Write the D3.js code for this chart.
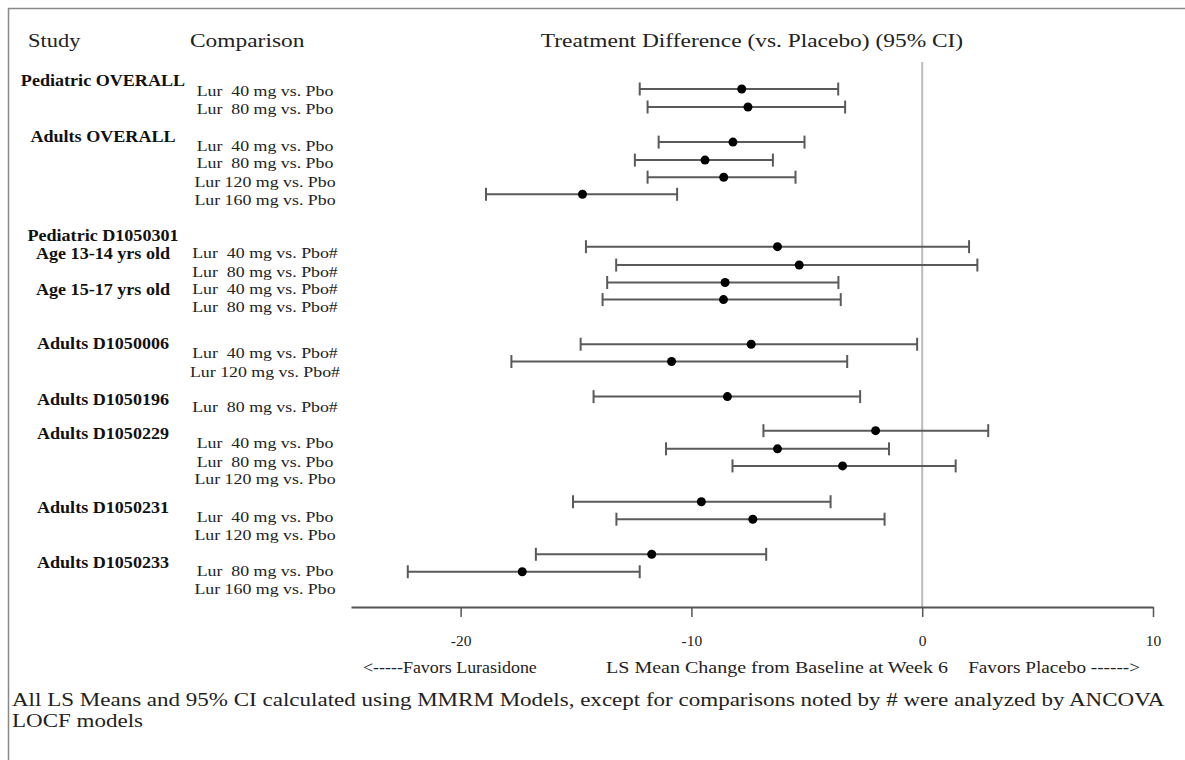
<!DOCTYPE html>
<html>
<head>
<meta charset="utf-8">
<style>
    body { margin: 0; background: #fff; }
    text { font-family: "Liberation Serif", "Times New Roman", serif; fill: #222; }
    .hdr { font-size: 19.5px; }
    .study { font-size: 16px; font-weight: bold; fill: #111; }
    .comp { font-size: 15.5px; }
    .note { font-size: 19.5px; }
    .favors { font-size: 16px; }
</style>
<script src="https://d3js.org/d3.v7.min.js"></script>
</head>
<body>

<svg width="1185" height="760"></svg>

<script>

    // study / subgroup labels and the row they sit on
    var studyLabels = ["Pediatric OVERALL", "Adults OVERALL", "Pediatric D1050301", "Age 13-14 yrs old",
        "Age 15-17 yrs old", "Adults D1050006", "Adults D1050196", "Adults D1050229",
        "Adults D1050231", "Adults D1050233"];
    var studyRows = [0.5, 3.61, 9.11, 10.11, 12.11, 15.11, 18.22, 20.11, 24.22, 27.28];

    // comparison labels (second column)
    var compLabels = ["Lur  40 mg vs. Pbo", "Lur  80 mg vs. Pbo",
        "Lur  40 mg vs. Pbo", "Lur  80 mg vs. Pbo", "Lur 120 mg vs. Pbo", "Lur 160 mg vs. Pbo",
        "Lur  40 mg vs. Pbo#", "Lur  80 mg vs. Pbo#", "Lur  40 mg vs. Pbo#", "Lur  80 mg vs. Pbo#",
        "Lur  40 mg vs. Pbo#", "Lur 120 mg vs. Pbo#",
        "Lur  80 mg vs. Pbo#",
        "Lur  40 mg vs. Pbo", "Lur  80 mg vs. Pbo", "Lur 120 mg vs. Pbo",
        "Lur  40 mg vs. Pbo", "Lur 120 mg vs. Pbo",
        "Lur  80 mg vs. Pbo", "Lur 160 mg vs. Pbo"];
    var compRows = [1.06, 2.06, 4.17, 5.11, 6.17, 7.17, 10.11, 11.17, 12.11, 13.11,
        15.67, 16.72, 18.67, 20.67, 21.72, 22.67, 24.78, 25.78, 27.78, 28.78];

    // treatment difference estimates with 95% CI
    var ciRows  = [1.0, 2.0, 3.95, 4.95, 5.9, 6.85, 9.76, 10.78, 11.75, 12.7,
        15.18, 16.14, 18.09, 19.98, 20.99, 21.94, 23.93, 24.9, 26.85, 27.82];
    var ciLower = [-12.24, -11.9, -11.42, -12.45, -11.9, -18.9, -14.57, -13.26, -13.65, -13.85,
        -14.8, -17.8, -14.24, -6.88, -11.1, -8.22, -15.13, -13.25, -16.74, -22.29];
    var ciMean  = [-7.82, -7.55, -8.2, -9.41, -8.6, -14.72, -6.27, -5.33, -8.54, -8.61,
        -7.41, -10.86, -8.44, -2.02, -6.27, -3.45, -9.57, -7.34, -11.72, -17.33];
    var ciUpper = [-3.64, -3.34, -5.1, -6.47, -5.49, -10.62, 2.03, 2.39, -3.63, -3.53,
        -0.22, -3.25, -2.69, 2.86, -1.44, 1.45, -3.97, -1.63, -6.76, -12.24];

    var xTicks = [-20, -10, 0, 10];

    var svg = d3.select('svg');

    // the original font renders wider than Liberation Serif, so stretch text a bit
    function stretch(sel, k) {
        sel.each(function () {
            var w = this.getComputedTextLength();
            d3.select(this)
                .attr('textLength', w * k)
                .attr('lengthAdjust', 'spacingAndGlyphs');
        });
        return sel;
    }

    // outer frame (only top / left visible)
    svg.append('path')
        .attr('d', 'M8.5,760 V8.5 H1185')
        .attr('fill', 'none')
        .attr('stroke', '#888')
        .attr('stroke-width', 1.5);

    var xScale = d3.scaleLinear()
        .domain([-24.75, 10])
        .range([351, 1153]);

    var yScale = d3.scaleLinear()
        .domain([0, 30])
        .range([71, 611]);

    var axisY = 607;

    // column headers
    stretch(svg.append('text').attr('class', 'hdr').attr('x', 28).attr('y', 47).text('Study'), 1.15);
    stretch(svg.append('text').attr('class', 'hdr').attr('x', 190).attr('y', 47).text('Comparison'), 1.2);
    stretch(svg.append('text').attr('class', 'hdr').attr('x', 752).attr('y', 47)
        .attr('text-anchor', 'middle')
        .text('Treatment Difference (vs. Placebo) (95% CI)'), 1.2);

    // zero reference line
    svg.append('line')
        .attr('x1', xScale(0)).attr('x2', xScale(0))
        .attr('y1', 62).attr('y2', axisY)
        .attr('stroke', '#bbb')
        .attr('stroke-width', 2);

    // x axis
    var xAxis = d3.axisBottom(xScale)
        .tickValues(xTicks)
        .tickSize(10)
        .tickSizeOuter(0)
        .tickPadding(18)
        .tickFormat(function (d) { return String(d); });

    var gx = svg.append('g')
        .attr('transform', 'translate(0,' + axisY + ')')
        .call(xAxis);
    gx.select('.domain').attr('stroke', '#555').attr('stroke-width', 2);
    gx.selectAll('.tick line').attr('stroke', '#555').attr('stroke-width', 1.5);
    gx.selectAll('.tick text')
        .attr('font-family', '"Liberation Serif", serif')
        .attr('font-size', 15.5)
        .attr('fill', '#222');

    // row labels
    stretch(svg.selectAll('.study')
        .data(studyLabels)
        .enter()
        .append('text')
        .attr('class', 'study')
        .attr('x', 103)
        .attr('y', function (d, i) { return yScale(studyRows[i]); })
        .attr('dy', '0.35em')
        .attr('text-anchor', 'middle')
        .text(function (d) { return d; }), 1.13);

    stretch(svg.selectAll('.comp')
        .data(compLabels)
        .enter()
        .append('text')
        .attr('class', 'comp')
        .attr('x', 265)
        .attr('y', function (d, i) { return yScale(compRows[i]); })
        .attr('dy', '0.35em')
        .attr('text-anchor', 'middle')
        .style('white-space', 'pre')
        .text(function (d) { return d; }), 1.15);

    // CI bars
    var ci = ciRows.map(function (r, i) {
        return { row: r, lo: ciLower[i], mean: ciMean[i], hi: ciUpper[i] };
    });

    var bars = svg.append('g')
        .selectAll('.ci')
        .data(ci)
        .enter()
        .append('g')
        .attr('class', 'ci')
        .attr('transform', function (d) { return 'translate(0,' + yScale(d.row) + ')'; });

    bars.append('line')
        .attr('x1', function (d) { return xScale(d.lo); })
        .attr('x2', function (d) { return xScale(d.hi); })
        .attr('stroke', '#5a5a5a')
        .attr('stroke-width', 2);

    bars.append('line')
        .attr('x1', function (d) { return xScale(d.lo); })
        .attr('x2', function (d) { return xScale(d.lo); })
        .attr('y1', -6.5).attr('y2', 6.5)
        .attr('stroke', '#5a5a5a')
        .attr('stroke-width', 2);

    bars.append('line')
        .attr('x1', function (d) { return xScale(d.hi); })
        .attr('x2', function (d) { return xScale(d.hi); })
        .attr('y1', -6.5).attr('y2', 6.5)
        .attr('stroke', '#5a5a5a')
        .attr('stroke-width', 2);

    bars.append('circle')
        .attr('cx', function (d) { return xScale(d.mean); })
        .attr('r', 4.5)
        .attr('fill', '#000');

    // axis captions
    stretch(svg.append('text').attr('class', 'favors').attr('x', 363).attr('y', 673)
        .text('<-----Favors Lurasidone'), 1.12);
    stretch(svg.append('text').attr('class', 'favors').attr('x', 777).attr('y', 673)
        .attr('text-anchor', 'middle')
        .text('LS Mean Change from Baseline at Week 6'), 1.25);
    stretch(svg.append('text').attr('class', 'favors').attr('x', 1140).attr('y', 673)
        .attr('text-anchor', 'end')
        .text('Favors Placebo ------>'), 1.2);

    // footnote
    stretch(svg.append('text').attr('class', 'note').attr('x', 12).attr('y', 706)
        .text('All LS Means and 95% CI calculated using MMRM Models, except for comparisons noted by # were analyzed by ANCOVA'), 1.18);
    stretch(svg.append('text').attr('class', 'note').attr('x', 12).attr('y', 727)
        .text('LOCF models'), 1.18);

</script>
</body>
</html>
